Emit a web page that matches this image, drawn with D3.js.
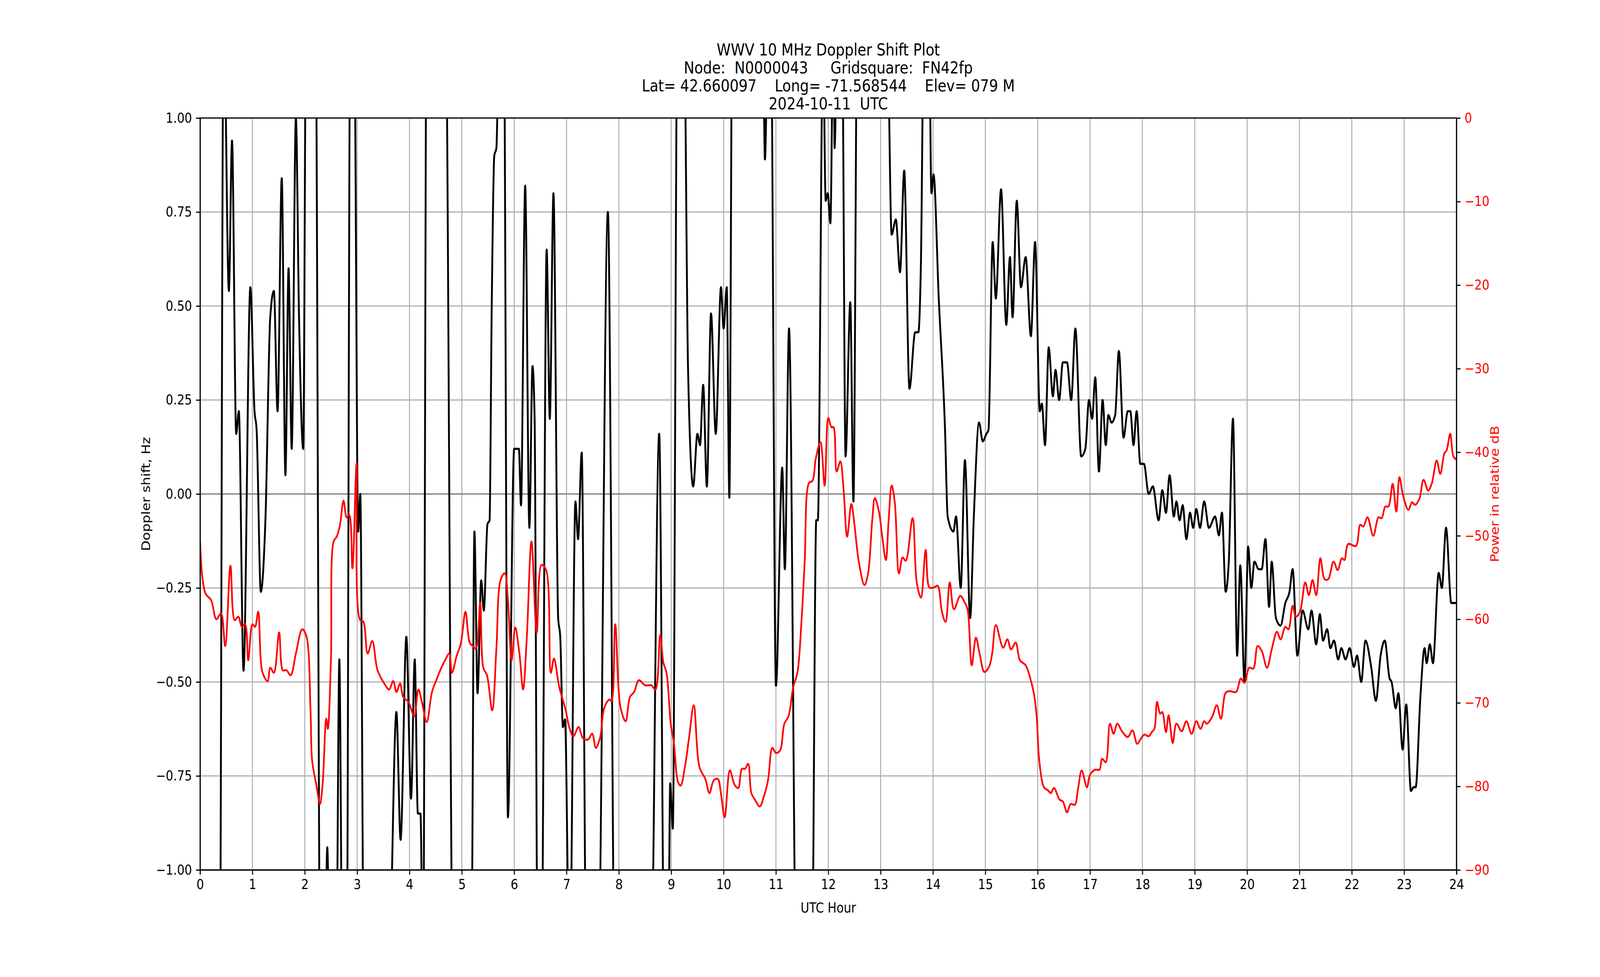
<!DOCTYPE html>
<html>
<head>
<meta charset="utf-8">
<script src="https://cdn.jsdelivr.net/npm/d3@7"></script>
<style>
  html, body { margin: 0; padding: 0; background: #fff; overflow: hidden; }
  #chart { display: block; width: 100vw; height: 100vh; }
  text { font-family: "DejaVu Sans", sans-serif; }
</style>
</head>
<body>
<svg id="chart" viewBox="0 0 4750 2500" preserveAspectRatio="none"></svg>
<script>
// doppler shift (Hz) vs UTC hour; values past +-1 are clipped
var dopHours = [0,0.37,0.45,0.55,0.61,0.69,0.74,0.83,0.96,1.04,1.08,1.16,1.25,1.34,1.41,1.48,1.56,1.63,1.69,1.75,1.83,1.89,1.97,2.03,2.2,2.3,2.38,2.43,2.48,2.6,2.66,2.72,2.8,2.87,2.94,3.02,3.06,3.13,3.6,3.75,3.83,3.94,4.03,4.1,4.16,4.21,4.26,4.33,4.68,4.84,5.18,5.24,5.3,5.37,5.42,5.49,5.53,5.57,5.62,5.66,5.72,5.8,5.88,6.0,6.09,6.13,6.21,6.29,6.35,6.39,6.45,6.52,6.62,6.68,6.75,6.84,6.88,6.93,6.97,7.06,7.17,7.22,7.29,7.38,7.6,7.79,7.93,8.6,8.77,8.87,8.94,8.98,9.03,9.12,9.24,9.32,9.42,9.5,9.55,9.61,9.68,9.76,9.85,9.95,10.0,10.06,10.11,10.17,10.74,10.79,10.84,10.9,11.0,11.12,11.17,11.25,11.4,11.68,11.77,11.8,11.9,11.95,11.99,12.04,12.1,12.12,12.18,12.26,12.33,12.42,12.48,12.56,13.12,13.21,13.29,13.37,13.45,13.55,13.66,13.72,13.77,13.83,13.92,13.97,14.01,14.11,14.23,14.28,14.39,14.44,14.53,14.61,14.71,14.78,14.88,14.95,15.02,15.06,15.14,15.2,15.3,15.4,15.47,15.52,15.6,15.68,15.77,15.87,15.95,16.04,16.08,16.14,16.21,16.29,16.34,16.41,16.48,16.56,16.64,16.72,16.83,16.91,16.98,17.04,17.1,17.17,17.24,17.3,17.35,17.41,17.48,17.55,17.64,17.72,17.77,17.83,17.89,17.96,18.03,18.12,18.2,18.31,18.38,18.45,18.52,18.6,18.65,18.71,18.77,18.84,18.91,18.97,19.03,19.1,19.18,19.27,19.39,19.46,19.52,19.59,19.65,19.73,19.81,19.87,19.95,20.02,20.08,20.14,20.22,20.28,20.35,20.42,20.47,20.55,20.64,20.73,20.81,20.87,20.96,21.06,21.17,21.23,21.32,21.39,21.45,21.53,21.59,21.66,21.74,21.8,21.88,21.96,22.04,22.1,22.18,22.26,22.37,22.46,22.55,22.63,22.72,22.76,22.84,22.89,22.97,23.04,23.13,23.18,23.22,23.31,23.39,23.43,23.49,23.55,23.66,23.72,23.8,23.9,24.0];
var dopValues = [-1.5,-1.5,1.3,0.54,0.94,0.16,0.22,-0.47,0.55,0.22,0.17,-0.26,-0.06,0.47,0.54,0.22,0.84,0.05,0.6,0.12,1.0,0.47,0.12,1.4,1.4,-1.4,-1.3,-0.94,-1.3,-1.3,-0.44,-1.3,-1.3,1.3,1.3,-0.1,0.0,-1.3,-1.3,-0.58,-0.92,-0.38,-0.81,-0.44,-0.85,-0.85,-1.3,1.4,1.4,-1.4,-1.3,-0.1,-0.53,-0.23,-0.31,-0.08,-0.07,0.49,0.9,0.92,1.3,1.3,-0.86,0.12,0.12,-0.03,0.82,-0.09,0.34,0.2,-1.3,-1.3,0.65,0.2,0.8,-0.33,-0.38,-0.62,-0.6,-1.3,-0.02,-0.12,0.11,-1.3,-1.3,0.75,-1.4,-1.4,0.16,-1.3,-1.3,-0.77,-0.89,1.3,1.3,0.34,0.02,0.16,0.13,0.29,0.02,0.48,0.16,0.55,0.44,0.55,-0.01,1.4,1.4,0.89,1.2,1.3,-0.51,0.07,-0.2,0.44,-1.4,-1.4,-0.07,-0.07,1.2,0.78,0.8,0.72,1.3,0.92,1.3,1.3,0.1,0.51,-0.02,1.4,1.3,0.69,0.73,0.59,0.86,0.28,0.43,0.43,0.62,1.3,1.3,0.8,0.85,0.52,0.17,-0.06,-0.1,-0.06,-0.25,0.09,-0.33,-0.06,0.19,0.14,0.16,0.17,0.67,0.52,0.81,0.45,0.63,0.47,0.78,0.55,0.63,0.42,0.67,0.22,0.24,0.13,0.39,0.26,0.33,0.25,0.35,0.35,0.25,0.44,0.1,0.12,0.25,0.2,0.31,0.06,0.25,0.13,0.21,0.19,0.21,0.38,0.15,0.22,0.22,0.13,0.22,0.08,0.08,0.0,0.02,-0.07,0.01,-0.05,0.05,-0.06,-0.02,-0.07,-0.03,-0.12,-0.05,-0.09,-0.04,-0.09,-0.02,-0.09,-0.06,-0.11,-0.05,-0.26,-0.18,0.2,-0.43,-0.19,-0.5,-0.14,-0.25,-0.18,-0.2,-0.2,-0.12,-0.3,-0.18,-0.33,-0.35,-0.29,-0.26,-0.2,-0.43,-0.31,-0.36,-0.31,-0.4,-0.32,-0.39,-0.36,-0.41,-0.39,-0.44,-0.41,-0.44,-0.41,-0.46,-0.43,-0.5,-0.39,-0.46,-0.55,-0.43,-0.39,-0.49,-0.5,-0.57,-0.53,-0.68,-0.56,-0.79,-0.78,-0.78,-0.54,-0.41,-0.45,-0.4,-0.45,-0.21,-0.25,-0.09,-0.29,-0.29];

// received power (relative dB) vs UTC hour
var powHours = [0,0.05,0.11,0.21,0.31,0.4,0.48,0.58,0.66,0.73,0.8,0.86,0.92,1.0,1.05,1.11,1.19,1.29,1.34,1.41,1.51,1.58,1.65,1.73,1.83,1.95,2.03,2.11,2.14,2.22,2.29,2.34,2.41,2.44,2.5,2.55,2.61,2.67,2.74,2.8,2.85,2.91,2.99,3.05,3.12,3.2,3.29,3.39,3.53,3.61,3.69,3.75,3.82,3.88,3.98,4.09,4.17,4.24,4.33,4.43,4.53,4.63,4.68,4.76,4.81,4.9,4.98,5.07,5.15,5.21,5.27,5.35,5.41,5.48,5.58,5.66,5.74,5.82,5.88,5.95,6.02,6.1,6.17,6.24,6.33,6.43,6.52,6.61,6.7,6.76,6.86,6.98,7.06,7.13,7.23,7.31,7.41,7.49,7.56,7.64,7.72,7.82,7.86,7.93,8.03,8.13,8.21,8.29,8.38,8.5,8.62,8.7,8.79,8.85,8.91,8.99,9.05,9.13,9.18,9.26,9.34,9.43,9.54,9.65,9.73,9.81,9.89,9.95,10.02,10.12,10.21,10.28,10.35,10.41,10.47,10.53,10.6,10.69,10.77,10.85,10.93,11.0,11.08,11.16,11.24,11.33,11.41,11.49,11.55,11.63,11.7,11.76,11.85,11.93,12.0,12.06,12.1,12.16,12.23,12.29,12.36,12.44,12.5,12.58,12.69,12.76,12.84,12.89,12.97,13.03,13.1,13.15,13.21,13.27,13.35,13.42,13.48,13.61,13.69,13.77,13.86,13.93,14.01,14.09,14.17,14.24,14.32,14.4,14.52,14.6,14.66,14.74,14.82,14.89,14.98,15.07,15.13,15.2,15.34,15.42,15.49,15.58,15.66,15.77,15.86,15.93,15.98,16.03,16.12,16.2,16.25,16.31,16.42,16.48,16.56,16.63,16.71,16.77,16.84,16.94,17.0,17.1,17.18,17.23,17.3,17.38,17.45,17.52,17.61,17.72,17.81,17.9,17.98,18.04,18.12,18.18,18.23,18.28,18.34,18.38,18.45,18.5,18.58,18.65,18.75,18.84,18.94,19.03,19.11,19.18,19.23,19.33,19.42,19.5,19.59,19.67,19.79,19.88,19.95,20.04,20.12,20.2,20.28,20.38,20.47,20.57,20.64,20.73,20.79,20.87,20.93,21.01,21.11,21.18,21.25,21.32,21.4,21.48,21.55,21.65,21.73,21.81,21.86,21.93,22.08,22.16,22.22,22.3,22.41,22.51,22.57,22.64,22.7,22.78,22.85,22.91,22.98,23.08,23.15,23.21,23.29,23.37,23.46,23.53,23.62,23.69,23.77,23.81,23.88,23.94,24.0];
var powValues = [-50.8,-55.3,-57,-57.7,-60,-59.3,-63.2,-53.6,-60.1,-59.7,-60.9,-60.6,-64.9,-60.6,-60.9,-59.1,-66.3,-67.4,-65.8,-66.4,-61.6,-66.1,-66.1,-66.7,-64.1,-61.2,-62,-71,-76.9,-79.8,-82.1,-79.8,-71.9,-73.1,-64.7,-50.7,-50.1,-48.8,-45.8,-47.8,-47.5,-53.9,-41.3,-60,-60.3,-64.1,-62.6,-66.1,-67.8,-68.4,-67.4,-68.7,-67.7,-69.3,-69.9,-71.6,-68.4,-70,-72.3,-68.7,-67,-65.5,-64.9,-64.1,-66.4,-64.4,-62.9,-59.1,-62.8,-63.2,-63.5,-58,-65.8,-66.7,-70.9,-63.5,-55.3,-54.5,-57.7,-64.9,-61,-64.1,-68.4,-62.3,-50.7,-61.6,-53.5,-54.1,-66.4,-64.7,-68.1,-70.8,-73.1,-74,-72.9,-74.2,-74.4,-73.7,-75.4,-74.2,-70.6,-69.6,-69.8,-60.6,-70.5,-72.2,-69.3,-68.7,-67.3,-67.9,-67.9,-68.4,-61.9,-65.2,-66.4,-72.5,-74.8,-79.5,-79.9,-77.7,-74.2,-70.3,-77.7,-79.1,-80.8,-79.3,-79.1,-80.9,-83.7,-78.1,-79.8,-80.2,-77.9,-77.9,-77.3,-80.8,-81.6,-82.4,-81.2,-79.2,-75.4,-76,-75.7,-72.5,-71.6,-68.1,-66.4,-60,-53,-43.7,-43.4,-40.8,-38.8,-44,-35.9,-37,-37,-42.3,-41.1,-44.3,-50.1,-46.2,-48.7,-53,-55.9,-54.5,-48.1,-45.5,-47.2,-50.1,-52.9,-48.4,-44,-46,-54.5,-52.6,-53,-47.9,-55.6,-57.4,-51.7,-56.2,-56.2,-56,-59.1,-60.3,-55.6,-58.8,-57.2,-57.9,-58.8,-65.5,-62.2,-64.1,-66.3,-65.7,-64.1,-60.7,-63.4,-62.4,-63.6,-62.8,-64.9,-65.5,-67.1,-69,-71.6,-76.9,-80.1,-80.5,-80.8,-80.2,-81.6,-81.8,-83.1,-82.1,-82.2,-80.3,-78.1,-80.1,-78.6,-78,-78,-76.7,-77.1,-72.5,-73.7,-72.5,-73.4,-74.1,-73.3,-74.9,-74.2,-73.8,-74,-73.5,-73.1,-69.9,-71.3,-71.1,-73.5,-71.5,-74.8,-72.5,-73.4,-72.2,-73.7,-72.2,-73.1,-72.2,-72.5,-71.7,-70.3,-71.9,-68.8,-68.6,-68.7,-67.1,-67.6,-65.8,-65.9,-63.2,-63.8,-65.8,-63.6,-61.5,-62.4,-60.9,-61.2,-58.4,-59.7,-59.1,-55.6,-57.1,-55.3,-57.1,-52.7,-55.2,-55.2,-53.1,-54.1,-52.7,-52.9,-51,-51.2,-48.7,-48.9,-47.8,-50,-47.8,-47.9,-46.5,-46.5,-43.8,-47.1,-43,-45.2,-46.9,-46,-46.3,-45.6,-43.3,-44.6,-43.7,-41,-42.6,-40.1,-39.8,-37.8,-40.5,-40.9];

var xTicks = d3.range(0, 25);
var dopTicks = [-1, -0.75, -0.5, -0.25, 0, 0.25, 0.5, 0.75, 1];
var powTicks = [0, -10, -20, -30, -40, -50, -60, -70, -80, -90];
var titleLines = [
  "WWV 10 MHz Doppler Shift Plot",
  "Node:  N0000043     Gridsquare:  FN42fp",
  "Lat= 42.660097    Long= -71.568544    Elev= 079 M",
  "2024-10-11  UTC"
];

var plotL = 594, plotR = 4324, plotT = 302, plotB = 2226;
var svg = d3.select("#chart");

var x = d3.scaleLinear().domain([0, 24]).range([plotL, plotR]);
var yDop = d3.scaleLinear().domain([-1, 1]).range([plotB, plotT]);
var yPow = d3.scaleLinear().domain([-90, 0]).range([plotB, plotT]);

svg.append("defs").append("clipPath").attr("id", "plotclip")
  .append("rect").attr("x", plotL).attr("y", plotT)
  .attr("width", plotR - plotL).attr("height", plotB - plotT);

// grid
var grid = svg.append("g").attr("stroke", "#b0b0b0").attr("stroke-width", 3);
xTicks.forEach(function(t) {
  grid.append("line").attr("x1", x(t)).attr("x2", x(t)).attr("y1", plotT).attr("y2", plotB);
});
dopTicks.forEach(function(t) {
  grid.append("line").attr("x1", plotL).attr("x2", plotR).attr("y1", yDop(t)).attr("y2", yDop(t));
});
svg.append("line").attr("x1", plotL).attr("x2", plotR)
  .attr("y1", yDop(0)).attr("y2", yDop(0))
  .attr("stroke", "#808080").attr("stroke-width", 3);

var dopLine = d3.line()
  .x(function(d) { return x(d[0]); })
  .y(function(d) { return yDop(d[1]); })
  .curve(d3.curveMonotoneX);
var powLine = d3.line()
  .x(function(d) { return x(d[0]); })
  .y(function(d) { return yPow(d[1]); })
  .curve(d3.curveCatmullRom.alpha(0.5));

var plot = svg.append("g").attr("clip-path", "url(#plotclip)");
plot.append("path").datum(d3.zip(dopHours, dopValues))
  .attr("d", dopLine).attr("fill", "none")
  .attr("stroke", "#000").attr("stroke-width", 5.5).attr("stroke-linejoin", "round");
plot.append("path").datum(d3.zip(powHours, powValues))
  .attr("d", powLine).attr("fill", "none")
  .attr("stroke", "red").attr("stroke-width", 5).attr("stroke-linejoin", "round");

// axes
var fs = 35;
var xAxis = svg.append("g").attr("transform", "translate(0," + plotB + ")")
  .call(d3.axisBottom(x).tickValues(xTicks).tickSize(12).tickPadding(12).tickFormat(d3.format("d")));
var yAxisL = svg.append("g").attr("transform", "translate(" + plotL + ",0)")
  .call(d3.axisLeft(yDop).tickValues(dopTicks).tickSize(12).tickPadding(12)
    .tickFormat(function(d) { return d3.format(".2f")(d).replace("-", "\u2212"); }));
var yAxisR = svg.append("g").attr("transform", "translate(" + plotR + ",0)")
  .call(d3.axisRight(yPow).tickValues(powTicks).tickSize(12).tickPadding(12)
    .tickFormat(function(d) { return String(d).replace("-", "\u2212"); }));
[xAxis, yAxisL, yAxisR].forEach(function(a) {
  a.selectAll("text").attr("font-size", fs).attr("font-family", "DejaVu Sans");
  a.selectAll("line").attr("stroke-width", 3);
  a.select(".domain").attr("stroke-width", 3);
});
yAxisR.selectAll(".tick text").attr("fill", "red");
svg.append("rect").attr("x", plotL).attr("y", plotT)
  .attr("width", plotR - plotL).attr("height", plotB - plotT)
  .attr("fill", "none").attr("stroke", "#000").attr("stroke-width", 3);

// labels
svg.append("text").attr("x", (plotL + plotR) / 2).attr("y", 2335)
  .attr("text-anchor", "middle").attr("font-size", fs).text("UTC Hour");
svg.append("text").attr("transform", "translate(445," + (plotT + plotB) / 2 + ") rotate(-90)")
  .attr("text-anchor", "middle").attr("font-size", fs).text("Doppler shift, Hz");
svg.append("text").attr("transform", "translate(4450," + (plotT + plotB) / 2 + ") rotate(-90)")
  .attr("text-anchor", "middle").attr("font-size", fs).attr("fill", "red").text("Power in relative dB");

svg.append("g").selectAll("text").data(titleLines).enter().append("text")
  .attr("x", (plotL + plotR) / 2)
  .attr("y", function(d, i) { return 142 + i * 46; })
  .attr("text-anchor", "middle").attr("font-size", 42)
  .attr("xml:space", "preserve")
  .text(function(d) { return d; });
</script>
</body>
</html>
